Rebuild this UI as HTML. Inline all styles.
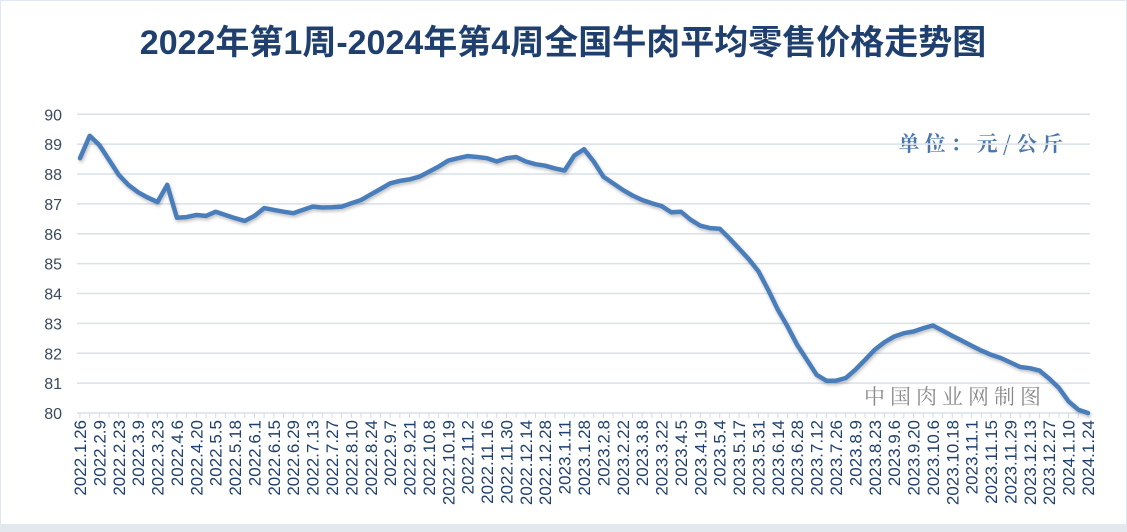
<!DOCTYPE html>
<html><head><meta charset="utf-8"><style>
html,body{margin:0;padding:0;background:#fff}
svg{display:block}
</style></head><body>
<svg width="1127" height="532" viewBox="0 0 1127 532" xmlns="http://www.w3.org/2000/svg">
<defs><filter id="sh" x="-5%" y="-5%" width="110%" height="115%"><feDropShadow dx="1" dy="2" stdDeviation="1.5" flood-color="#000" flood-opacity="0.25"/></filter></defs>
<rect x="0.5" y="0.5" width="1126" height="531" fill="#fff" stroke="#dfe7f0"/>
<rect x="0" y="524" width="1127" height="8" fill="#e3e8ef"/>
<text x="563" y="54" text-anchor="middle" font-family="'Liberation Sans','Noto Sans CJK SC',sans-serif" font-size="34" font-weight="bold" fill="#1f3f6e">2022年第1周-2024年第4周全国牛肉平均零售价格走势图</text>
<text x="1068" y="151" text-anchor="end" font-family="'Noto Serif CJK SC',serif" font-size="21" font-weight="bold" fill="#4a78ad" letter-spacing="5">单位：元/公斤</text>
<text x="1046" y="404" text-anchor="end" font-family="'Noto Serif CJK SC',serif" font-size="21" fill="#8a8a8a" letter-spacing="5">中国肉业网制图</text>
<g id="grid"></g>
<g id="yax"></g>
<g id="xax"></g>
<g id="series"></g>
</svg>
<script>
const yTicks=[80,81,82,83,84,85,86,87,88,89,90];
const xLabels=["2022.1.26","2022.2.9","2022.2.23","2022.3.9","2022.3.23","2022.4.6","2022.4.20","2022.5.5","2022.5.18","2022.6.1","2022.6.15","2022.6.29","2022.7.13","2022.7.27","2022.8.10","2022.8.24","2022.9.7","2022.9.21","2022.10.8","2022.10.19","2022.11.2","2022.11.16","2022.11.30","2022.12.14","2022.12.28","2023.1.11","2023.1.28","2023.2.8","2023.2.22","2023.3.8","2023.3.22","2023.4.5","2023.4.19","2023.5.4","2023.5.17","2023.5.31","2023.6.14","2023.6.28","2023.7.12","2023.7.26","2023.8.9","2023.8.23","2023.9.6","2023.9.20","2023.10.6","2023.10.18","2023.11.1","2023.11.15","2023.11.29","2023.12.13","2023.12.27","2024.1.10","2024.1.24"];
const prices=[88.53,89.28,88.97,88.47,87.97,87.63,87.39,87.21,87.06,87.64,86.54,86.56,86.63,86.6,86.74,86.63,86.52,86.43,86.6,86.86,86.8,86.74,86.69,86.8,86.91,86.88,86.89,86.91,87.02,87.13,87.32,87.5,87.69,87.77,87.82,87.91,88.08,88.25,88.45,88.53,88.6,88.57,88.53,88.42,88.53,88.57,88.42,88.33,88.28,88.19,88.12,88.62,88.83,
88.42,87.91,87.69,87.47,87.28,87.13,87.02,86.93,86.72,86.74,86.47,86.27,86.19,86.17,85.85,85.5,85.15,84.74,84.12,83.46,82.9,82.28,81.78,81.28,81.08,81.08,81.17,81.45,81.78,82.12,82.37,82.56,82.67,82.73,82.84,82.93,82.76,82.58,82.42,82.25,82.09,81.95,81.84,81.69,81.54,81.5,81.42,81.15,80.84,80.39,80.11,80.0];
const NS="http://www.w3.org/2000/svg";
const X0=80,X1=1088,Y0=413,Y1=114.3;
const n=prices.length;
function xs(i){return X0+(X1-X0)*i/(n-1);}
function ys(v){return Y0-(v-80)/(90-80)*(Y0-Y1);}
function mk(t,a,p){const e=document.createElementNS(NS,t);for(const k in a)e.setAttribute(k,a[k]);p.appendChild(e);return e;}
const grid=document.getElementById('grid'),yax=document.getElementById('yax'),xax=document.getElementById('xax'),ser=document.getElementById('series');
yTicks.forEach(v=>{
 const l=mk('line',{x1:77,x2:1090,y1:ys(v),y2:ys(v),stroke:'#d9e1ea','stroke-width':1.5},grid);
 
 
 const t=mk('text',{x:62,y:ys(v)+6,'text-anchor':'end','font-family':'Liberation Sans,sans-serif','font-size':16,fill:'#3b4a5c'},yax);
 t.textContent=v;
 
 
});
for(let i=0;i<n;i++){
 const tk=mk('line',{x1:xs(i),x2:xs(i),y1:Y0,y2:Y0+5,stroke:'#d3dce6','stroke-width':1},xax);
 
 
}
xLabels.forEach((s,j)=>{
 const x=xs(j*2)+6,y=420;
 const t=mk('text',{x:x,y:y,transform:`rotate(-90 ${x} ${y})`,'text-anchor':'end','font-family':'Liberation Sans,sans-serif','font-size':17,fill:'#1f3f6e'},xax);
 t.textContent=s;
 
 
});
const d=prices.map((v,i)=>(i?'L':'M')+xs(i).toFixed(1)+' '+ys(v).toFixed(1)).join(' ');
const p=mk('path',{d:d,fill:'none',stroke:'#4a7ebb','stroke-width':4.5,'stroke-linejoin':'round','stroke-linecap':'round',filter:'url(#sh)'},ser);


</script>
</body></html>
